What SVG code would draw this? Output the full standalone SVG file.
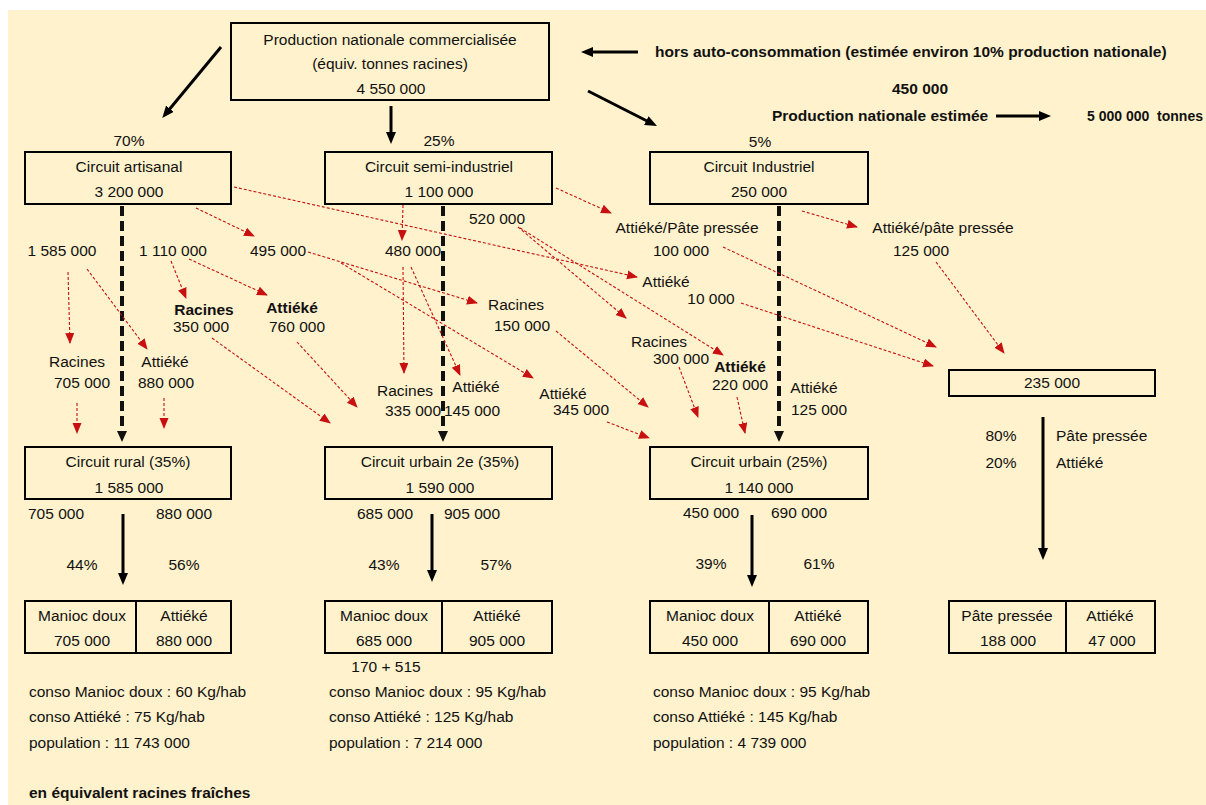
<svg xmlns="http://www.w3.org/2000/svg" width="1206" height="805" viewBox="0 0 1206 805">
<defs>
<style>
text{font-family:"Liberation Sans",Arial,sans-serif;font-size:15.5px;fill:#111}
.c{text-anchor:middle}
.b{font-weight:bold}
.box{fill:none;stroke:#000;stroke-width:2}
.red{stroke:#C81010;stroke-width:1.1;stroke-dasharray:3 2;fill:none}
.blk{stroke:#000;stroke-width:3;fill:none}
.dsh{stroke:#111;stroke-width:4;stroke-dasharray:10 5;fill:none}
</style>
<marker id="rh" markerUnits="userSpaceOnUse" markerWidth="12" markerHeight="10" refX="10" refY="4.5" orient="auto"><path d="M0,0 L11,4.5 L0,9 z" fill="#C81010"/></marker>
<marker id="bh" markerUnits="userSpaceOnUse" markerWidth="14" markerHeight="12" refX="3" refY="5" orient="auto"><path d="M0,0 L12,5 L0,10 z" fill="#000"/></marker>
<marker id="dh" markerUnits="userSpaceOnUse" markerWidth="14" markerHeight="12" refX="3" refY="5" orient="auto"><path d="M0,0 L11,5 L0,10 z" fill="#111"/></marker>
</defs>
<rect x="8" y="10" width="1198" height="795" fill="#FFF2CC"/>

<g id="connectors">
<line class="blk" x1="221" y1="47" x2="168" y2="111" marker-end="url(#bh)"/>
<line class="blk" x1="391" y1="106" x2="391" y2="135" marker-end="url(#bh)"/>
<line class="blk" x1="588" y1="91" x2="649" y2="122" marker-end="url(#bh)"/>
<line class="blk" x1="638" y1="52" x2="590" y2="52" marker-end="url(#bh)"/>
<line class="blk" x1="996" y1="116" x2="1042" y2="116" marker-end="url(#bh)"/>
<line class="blk" x1="123" y1="514" x2="123" y2="576" marker-end="url(#bh)"/>
<line class="blk" x1="432" y1="514" x2="432" y2="573" marker-end="url(#bh)"/>
<line class="blk" x1="752" y1="515" x2="752" y2="578" marker-end="url(#bh)"/>
<line class="blk" x1="1043" y1="417" x2="1043" y2="551" marker-end="url(#bh)"/>

<line class="dsh" x1="122" y1="206" x2="122" y2="434" marker-end="url(#dh)"/>
<line class="dsh" x1="443" y1="206" x2="443" y2="434" marker-end="url(#dh)"/>
<line class="dsh" x1="779" y1="206" x2="779" y2="434" marker-end="url(#dh)"/>

<line class="red" x1="196" y1="208" x2="254" y2="236" marker-end="url(#rh)"/>
<line class="red" x1="234" y1="187" x2="637" y2="277" marker-end="url(#rh)"/>
<line class="red" x1="68" y1="272" x2="70" y2="343" marker-end="url(#rh)"/>
<line class="red" x1="87" y1="269" x2="147" y2="349" marker-end="url(#rh)"/>
<line class="red" x1="171" y1="261" x2="186" y2="298" marker-end="url(#rh)"/>
<line class="red" x1="189" y1="259" x2="267" y2="295" marker-end="url(#rh)"/>
<line class="red" x1="77" y1="403" x2="77" y2="433" marker-end="url(#rh)"/>
<line class="red" x1="164" y1="398" x2="164" y2="428" marker-end="url(#rh)"/>
<line class="red" x1="212" y1="338" x2="330" y2="423" marker-end="url(#rh)"/>
<line class="red" x1="297" y1="342" x2="357" y2="407" marker-end="url(#rh)"/>
<line class="red" x1="308" y1="252" x2="477" y2="303" marker-end="url(#rh)"/>
<line class="red" x1="341" y1="263" x2="533" y2="378" marker-end="url(#rh)"/>
<line class="red" x1="403" y1="205" x2="402" y2="240" marker-end="url(#rh)"/>
<line class="red" x1="403" y1="267" x2="404" y2="373" marker-end="url(#rh)"/>
<line class="red" x1="411" y1="267" x2="460" y2="375" marker-end="url(#rh)"/>
<line class="red" x1="556" y1="188" x2="611" y2="213" marker-end="url(#rh)"/>
<line class="red" x1="518" y1="227" x2="626" y2="318" marker-end="url(#rh)"/>
<line class="red" x1="520" y1="228" x2="723" y2="355" marker-end="url(#rh)"/>
<line class="red" x1="556" y1="331" x2="648" y2="407" marker-end="url(#rh)"/>
<line class="red" x1="607" y1="422" x2="649" y2="438" marker-end="url(#rh)"/>
<line class="red" x1="679" y1="367" x2="698" y2="417" marker-end="url(#rh)"/>
<line class="red" x1="737" y1="397" x2="745" y2="433" marker-end="url(#rh)"/>
<line class="red" x1="802" y1="211" x2="857" y2="227" marker-end="url(#rh)"/>
<line class="red" x1="723" y1="247" x2="936" y2="347" marker-end="url(#rh)"/>
<line class="red" x1="741" y1="303" x2="933" y2="366" marker-end="url(#rh)"/>
<line class="red" x1="936" y1="262" x2="1004" y2="353" marker-end="url(#rh)"/>
</g>

<g id="production">
<rect class="box" x="231" y="23" width="318" height="77"/>
<text class="c" x="390" y="45">Production nationale commercialisée</text>
<text class="c" x="390" y="69">(équiv. tonnes racines)</text>
<text class="c" x="391" y="94">4 550 000</text>
</g>

<g id="notes-top">
<text class="b" x="655" y="57">hors auto-consommation (estimée environ 10% production nationale)</text>
<text class="b c" x="920" y="94">450 000</text>
<text class="b" x="772" y="121">Production nationale estimée</text>
<text class="b" x="1087" y="121" style="font-size:14px">5 000 000&#160; tonnes</text>
<text class="c" x="129" y="146">70%</text>
<text class="c" x="439" y="146">25%</text>
<text class="c" x="760" y="147">5%</text>
</g>

<g id="artisanal">
<rect class="box" x="25" y="152" width="206" height="52"/>
<text class="c" x="129" y="172">Circuit artisanal</text>
<text class="c" x="129" y="197">3 200 000</text>
</g>
<g id="semi-industriel">
<rect class="box" x="325" y="152" width="227" height="52"/>
<text class="c" x="439" y="172">Circuit semi-industriel</text>
<text class="c" x="439" y="197">1 100 000</text>
</g>
<g id="industriel">
<rect class="box" x="650" y="152" width="218" height="52"/>
<text class="c" x="759" y="172">Circuit Industriel</text>
<text class="c" x="759" y="197">250 000</text>
</g>

<g id="flow-labels">
<text class="c" x="62" y="256">1 585 000</text>
<text class="c" x="173" y="256">1 110 000</text>
<text class="c" x="278" y="256">495 000</text>
<text class="c" x="413" y="256">480 000</text>
<text class="c" x="497" y="224">520 000</text>
<text class="c b" x="204" y="315">Racines</text>
<text class="c" x="201" y="332">350 000</text>
<text class="c b" x="292" y="313">Attiéké</text>
<text class="c" x="297" y="332">760 000</text>
<text class="c" x="77" y="367">Racines</text>
<text class="c" x="82" y="388">705 000</text>
<text class="c" x="165" y="367">Attiéké</text>
<text class="c" x="166" y="388">880 000</text>
<text class="c" x="405" y="396">Racines</text>
<text class="c" x="413" y="416">335 000</text>
<text class="c" x="476" y="392">Attiéké</text>
<text class="c" x="472" y="416">145 000</text>
<text class="c" x="516" y="310">Racines</text>
<text class="c" x="522" y="331">150 000</text>
<text class="c" x="563" y="399">Attiéké</text>
<text class="c" x="581" y="415">345 000</text>
<text class="c" x="687" y="233">Attiéké/Pâte pressée</text>
<text class="c" x="681" y="256">100 000</text>
<text class="c" x="666" y="287">Attiéké</text>
<text class="c" x="711" y="304">10 000</text>
<text class="c" x="659" y="347">Racines</text>
<text class="c" x="681" y="364">300 000</text>
<text class="c b" x="740" y="372">Attiéké</text>
<text class="c" x="740" y="390">220 000</text>
<text class="c" x="814" y="393">Attiéké</text>
<text class="c" x="819" y="415">125 000</text>
<text class="c" x="943" y="233">Attiéké/pâte pressée</text>
<text class="c" x="921" y="256">125 000</text>
</g>

<g id="pate">
<rect class="box" x="949" y="370" width="206" height="26"/>
<text class="c" x="1052" y="388">235 000</text>
</g>
<g id="pate-split">
<text class="c" x="1001" y="441">80%</text>
<text x="1056" y="441">Pâte pressée</text>
<text class="c" x="1001" y="468">20%</text>
<text x="1056" y="468">Attiéké</text>
</g>

<g id="rural">
<rect class="box" x="25" y="447" width="206" height="52"/>
<text class="c" x="128" y="467">Circuit rural (35%)</text>
<text class="c" x="129" y="493">1 585 000</text>
<text class="c" x="56" y="519">705 000</text>
<text class="c" x="184" y="519">880 000</text>
<text class="c" x="82" y="570">44%</text>
<text class="c" x="184" y="570">56%</text>
</g>
<g id="urbain2">
<rect class="box" x="325" y="447" width="227" height="52"/>
<text class="c" x="440" y="467">Circuit urbain 2e (35%)</text>
<text class="c" x="440" y="493">1 590 000</text>
<text class="c" x="385" y="519">685 000</text>
<text class="c" x="472" y="519">905 000</text>
<text class="c" x="384" y="570">43%</text>
<text class="c" x="496" y="570">57%</text>
</g>
<g id="urbain">
<rect class="box" x="650" y="447" width="218" height="52"/>
<text class="c" x="759" y="467">Circuit urbain (25%)</text>
<text class="c" x="759" y="493">1 140 000</text>
<text class="c" x="711" y="518">450 000</text>
<text class="c" x="799" y="518">690 000</text>
<text class="c" x="711" y="569">39%</text>
<text class="c" x="819" y="569">61%</text>
</g>

<g id="result-rural">
<rect class="box" x="25" y="601" width="206" height="52"/>
<line class="box" x1="136" y1="601" x2="136" y2="653"/>
<text class="c" x="82" y="621">Manioc doux</text>
<text class="c" x="82" y="646">705 000</text>
<text class="c" x="184" y="621">Attiéké</text>
<text class="c" x="184" y="646">880 000</text>
</g>
<g id="result-urbain2">
<rect class="box" x="325" y="601" width="227" height="52"/>
<line class="box" x1="442" y1="601" x2="442" y2="653"/>
<text class="c" x="384" y="621">Manioc doux</text>
<text class="c" x="384" y="646">685 000</text>
<text class="c" x="497" y="621">Attiéké</text>
<text class="c" x="497" y="646">905 000</text>
<text class="c" x="386" y="672">170 + 515</text>
</g>
<g id="result-urbain">
<rect class="box" x="650" y="601" width="218" height="52"/>
<line class="box" x1="769" y1="601" x2="769" y2="653"/>
<text class="c" x="710" y="621">Manioc doux</text>
<text class="c" x="710" y="646">450 000</text>
<text class="c" x="818" y="621">Attiéké</text>
<text class="c" x="818" y="646">690 000</text>
</g>
<g id="result-pate">
<rect class="box" x="949" y="601" width="206" height="52"/>
<line class="box" x1="1066" y1="601" x2="1066" y2="653"/>
<text class="c" x="1007" y="621">Pâte pressée</text>
<text class="c" x="1008" y="646">188 000</text>
<text class="c" x="1110" y="621">Attiéké</text>
<text class="c" x="1112" y="646">47 000</text>
</g>

<g id="conso">
<text x="29" y="697">conso Manioc doux : 60 Kg/hab</text>
<text x="29" y="722">conso Attiéké : 75 Kg/hab</text>
<text x="29" y="748">population : 11 743 000</text>
<text x="329" y="697">conso Manioc doux : 95 Kg/hab</text>
<text x="329" y="722">conso Attiéké : 125 Kg/hab</text>
<text x="329" y="748">population : 7 214 000</text>
<text x="653" y="697">conso Manioc doux : 95 Kg/hab</text>
<text x="653" y="722">conso Attiéké : 145 Kg/hab</text>
<text x="653" y="748">population : 4 739 000</text>
<text class="b" x="29" y="798">en équivalent racines fraîches</text>
</g>
</svg>
